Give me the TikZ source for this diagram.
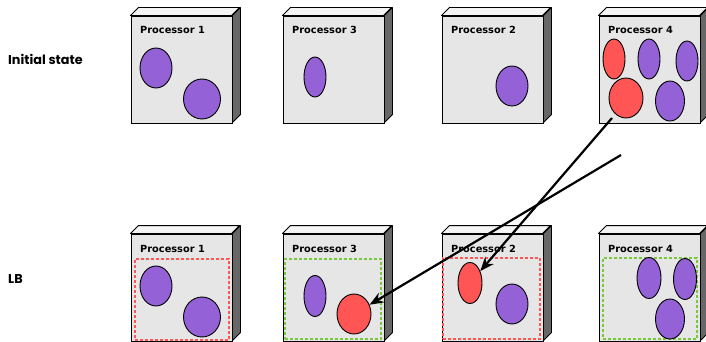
\documentclass[tikz,border=0pt]{standalone}
\usepackage{fontspec}
\setmainfont{DejaVu Sans}
\newfontfamily\labfont{Poppins}
\usetikzlibrary{shapes.geometric,arrows.meta}
\definecolor{frontc}{HTML}{E6E6E6}
\definecolor{topc}{HTML}{F4F4F4}
\definecolor{sidec}{HTML}{676767}
\definecolor{purp}{HTML}{9461D6}
\definecolor{redc}{HTML}{FF5555}
\definecolor{greenc}{HTML}{77C83A}
\tikzset{
  frontface/.style={draw=black, line width=0.9pt, fill=frontc, minimum width=101pt, minimum height=107pt, inner sep=0pt},
  topface/.style={draw=black, line width=0.9pt, fill=topc, line join=round},
  sideface/.style={draw=black, line width=0.9pt, fill=sidec, line join=round},
  plabel/.style={font=\bfseries\fontsize{9.8}{11}\selectfont, anchor=base west, inner sep=0pt},
  rowlabel/.style={font=\labfont\bfseries\fontsize{12.8}{14}\selectfont, anchor=base west, inner sep=0pt},
  ell/.style={ellipse, draw=black, line width=0.9pt, inner sep=0pt},
  dbox/.style={draw=#1, line width=1.2pt, dash pattern=on 3pt off 2pt, inner sep=0pt},
  mv/.style={draw=black, line width=2.2pt, -{Stealth[length=14pt,width=11pt]}}
}
\newcommand\procbox[4]{%
  \node[frontface] (#1) at (#2+50.5,#3+53.5) {};
  \filldraw[topface] (#1.north west) -- ++(8,-8) -- ++(101,0) -- ++(-8,8) -- cycle;
  \filldraw[sideface] (#1.north east) -- ++(8,-8) -- ++(0,107) -- ++(-8,8) -- cycle;
  \node[plabel] (#1l) at (#2+9,#3+18) {#4};
}
\newcommand\blob[6]{%
  \node[ell, fill=#6, minimum width=#4pt, minimum height=#5pt] (#1) at (#2,#3) {};
}
\begin{document}
\begin{tikzpicture}[x=1pt,y=-1pt]
\useasboundingbox (0,0) rectangle (706,342);
% row labels
\node[rowlabel] (lab1) at (8,65) {Initial state};
\node[rowlabel] (lab2) at (8,283) {LB};
% top row
\procbox{t1}{131}{16}{Processor 1}
\procbox{t3}{283}{16}{Processor 3}
\procbox{t2}{442}{16}{Processor 2}
\procbox{t4}{599}{16}{Processor 4}
\blob{t1a}{156}{68}{32}{40}{purp}
\blob{t1b}{202}{99}{37}{40}{purp}
\blob{t3a}{315}{77}{22}{40}{purp}
\blob{t2a}{512}{86}{32}{40}{purp}
\blob{t4a}{614}{59}{22}{40}{redc}
\blob{t4b}{649}{59}{22}{40}{purp}
\blob{t4c}{687}{61}{22}{40}{purp}
\blob{t4d}{626}{98}{34}{40}{redc}
\blob{t4e}{670}{101}{29}{40}{purp}
% bottom row
\procbox{b1}{131}{234}{Processor 1}
\procbox{b3}{283}{234}{Processor 3}
\procbox{b2}{442}{234}{Processor 2}
\procbox{b4}{599}{234}{Processor 4}
\node[dbox=redc, minimum width=94pt, minimum height=81pt] (r1) at (182,299.5) {};
\node[dbox=greenc, minimum width=96pt, minimum height=80pt] (r3) at (333,299) {};
\node[dbox=redc, minimum width=97pt, minimum height=81pt] (r2) at (491.5,298.5) {};
\node[dbox=greenc, minimum width=94pt, minimum height=81pt] (r4) at (650,298.5) {};
\blob{b1a}{156}{286}{32}{40}{purp}
\blob{b1b}{202}{317}{37}{40}{purp}
\blob{b3a}{315}{296}{22}{41}{purp}
\blob{b3b}{354}{314}{34}{40}{redc}
\blob{b2a}{470}{283}{24}{41}{redc}
\blob{b2b}{512}{304}{32}{40}{purp}
\blob{b4a}{649}{278}{24}{41}{purp}
\blob{b4b}{685}{279}{23}{41}{purp}
\blob{b4c}{670}{319}{29}{40}{purp}
% migrations
\coordinate (s1) at (612,118);
\coordinate (s2) at (621,155);
\draw[mv] (s1) -- (b2a);
\draw[mv] (s2) -- (b3b);
\end{tikzpicture}
\end{document}
